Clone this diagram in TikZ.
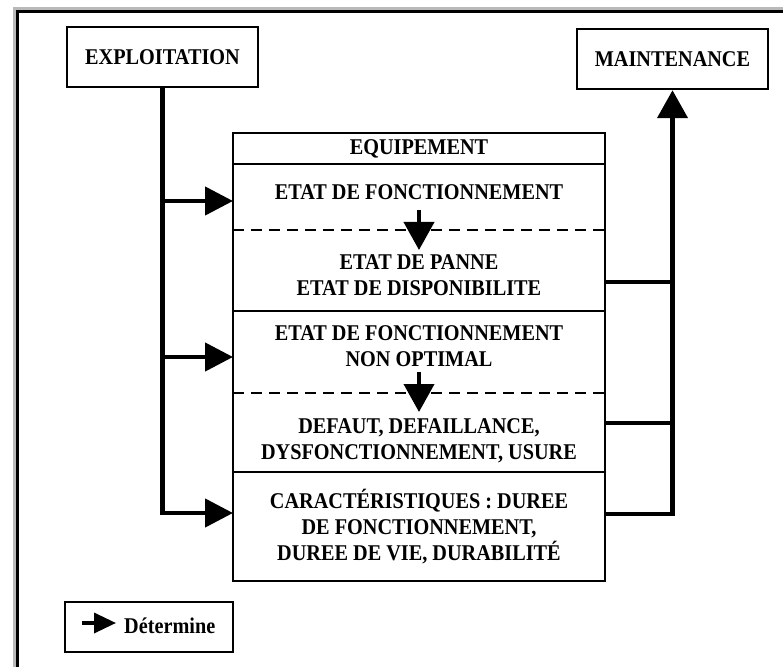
\documentclass[tikz,border=0pt]{standalone}
\usepackage{fontspec}
\setmainfont{Liberation Serif}[FakeStretch=0.9]
\usepackage{tikz}
\usetikzlibrary{arrows.meta}
\tikzset{
    tnode/.style = {align=center, inner sep=0pt, text centered, font=\fontsize{22.5}{26}\selectfont\bfseries},
    box/.style = {tnode, rectangle, draw=black, line width=2.5pt, minimum width=191pt, minimum height=60pt},
    part/.style = {tnode, rectangle, outer sep=0pt, minimum width=372pt},
    wall/.style = {line width=2.5pt},
    cut/.style = {line width=2.5pt, dash pattern=on 11pt off 7pt},
    link/.style = {line width=4.5pt},
    feed/.style = {link, -{Triangle[length=28pt, width=28pt]}},
    lift/.style = {link, -{Triangle[length=28pt, width=30pt]}},
    turn/.style = {line width=4pt, -{Triangle[length=28pt, width=30pt]}},
    keyarrow/.style = {line width=3.5pt, -{Triangle[length=22pt, width=20pt]}}
}

\begin{document}
\begin{tikzpicture}
            [x=1pt, y=1pt, line join=miter]

            \useasboundingbox (0,0) rectangle (783,667);
            \draw [gray!55, line width=3pt] (14.5,0) -- (14.5,658.5) -- (783,658.5);
            \draw [line width=2.5pt] (17.5,0) -- (17.5,655.5) -- (783,655.5);

            \node [box] (exploit) at (162.5,610) {EXPLOITATION};
            \node [box] (maint) at (672.5,608) {MAINTENANCE};

            \node [part, minimum height=31pt] (equip) at (419,518.5) {EQUIPEMENT};
            \node [part, minimum height=66pt] (fonc) at (419,470) {};
            \node [part, minimum height=81pt] (panne) at (419,396.5) {};
            \node [part, minimum height=82pt] (nonopt) at (419,315) {};
            \node [part, minimum height=79pt] (defaut) at (419,234.5) {};
            \node [part, minimum height=109pt] (carac) at (419,140.5) {};

            \node [tnode] (fonctxt) at (419,475) {ETAT DE FONCTIONNEMENT};
            \node [tnode] (pannetxt) at (419,392) {ETAT DE PANNE\\ETAT DE DISPONIBILITE};
            \node [tnode] (nonopttxt) at (419,320.5) {ETAT DE FONCTIONNEMENT\\NON OPTIMAL};
            \node [tnode] (defauttxt) at (419,226.5) {DEFAUT, DEFAILLANCE,\\DYSFONCTIONNEMENT, USURE};
            \node [tnode] (caractxt) at (419,140) {CARACTÉRISTIQUES : DUREE\\DE FONCTIONNEMENT,\\DUREE DE VIE, DURABILITÉ};

            \draw [wall] (equip.north west) rectangle (carac.south east);
            \draw [wall] (equip.south west) -- (equip.south east);
            \draw [wall] (panne.south west) -- (panne.south east);
            \draw [wall] (defaut.south west) -- (defaut.south east);
            \draw [cut] (fonc.south west) -- (fonc.south east);
            \draw [cut] (nonopt.south west) -- (nonopt.south east);

            \draw [turn] ([yshift=20pt]fonc.south) -- ([yshift=-20pt]fonc.south);
            \draw [turn] ([yshift=21pt]nonopt.south) -- ([yshift=-19pt]nonopt.south);

            \coordinate (in1) at ([yshift=-4pt]fonc.west);
            \coordinate (in2) at ([yshift=-5pt]nonopt.west);
            \coordinate (in3) at ([yshift=13.5pt]carac.west);
            \draw [feed] (exploit.south) |- (in3);
            \draw [feed] (exploit.south |- in1) -- (in1);
            \draw [feed] (exploit.south |- in2) -- (in2);

            \coordinate (out1) at ([yshift=-11.5pt]panne.east);
            \coordinate (out2) at ([yshift=9.5pt]defaut.east);
            \coordinate (out3) at ([yshift=12.5pt]carac.east);
            \draw [lift] (out3) -| (maint.south);
            \draw [link] (out1) -- (out1 -| maint.south);
            \draw [link] (out2) -- (out2 -| maint.south);

            \node [box, minimum width=168pt, minimum height=50pt] (legend) at (149,40) {};
            \node [tnode, anchor=west] (legtxt) at (124,41.5) {Détermine};
            \coordinate (legtail) at ([xshift=18pt,yshift=4pt]legend.west);
            \draw [keyarrow] (legtail) -- ([xshift=-8pt]legtxt.west |- legtail);
        \end{tikzpicture}
\end{document}
